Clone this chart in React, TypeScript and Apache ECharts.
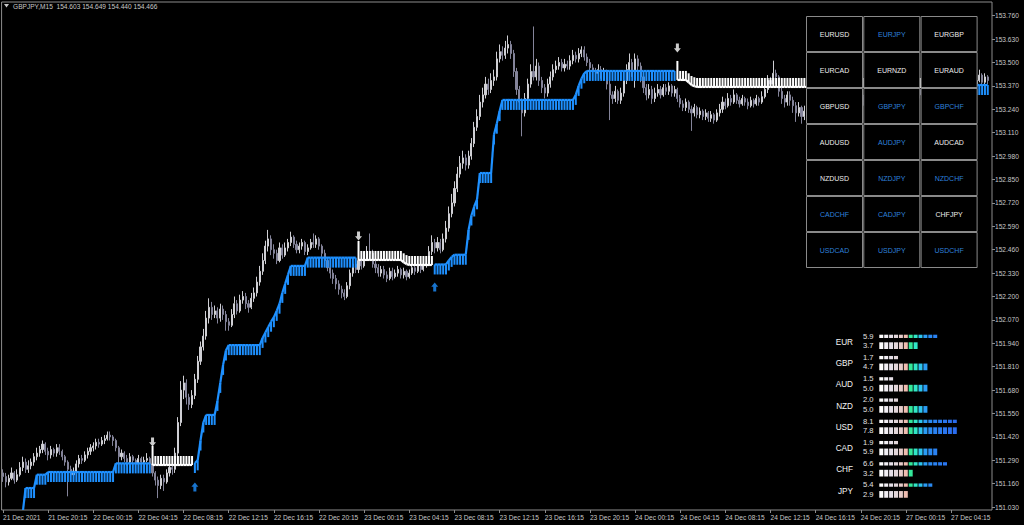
import React, { useEffect, useRef } from 'react';
import * as echarts from 'echarts';

const timeLabels = ['21 Dec 2021','21 Dec 20:15','22 Dec 00:15','22 Dec 04:15','22 Dec 08:15','22 Dec 12:15','22 Dec 16:15','22 Dec 20:15','23 Dec 00:15','23 Dec 04:15','23 Dec 08:15','23 Dec 12:15','23 Dec 16:15','23 Dec 20:15','24 Dec 00:15','24 Dec 04:15','24 Dec 08:15','24 Dec 12:15','24 Dec 16:15','24 Dec 20:15','27 Dec 00:15','27 Dec 04:15'];
const priceTicks = [153.760,153.630,153.500,153.370,153.240,153.110,152.980,152.850,152.720,152.590,152.460,152.330,152.200,152.070,151.940,151.810,151.680,151.550,151.420,151.290,151.160,151.030];

const firstOpen = 151.22;
const closes = [
151.20,151.17,151.19,151.22,151.18,151.21,151.25,151.28,151.24,151.26,
151.28,151.31,151.33,151.35,151.38,151.34,151.32,151.35,151.33,151.36,
151.34,151.31,151.28,151.24,151.21,151.23,151.27,151.30,151.29,151.32,
151.34,151.36,151.37,151.39,151.38,151.40,151.41,151.43,151.42,151.40,
151.36,151.31,151.33,151.30,151.28,151.31,151.29,151.27,151.30,151.28,
151.29,151.30,151.27,151.22,151.18,151.15,151.19,151.17,151.22,151.25,
151.24,151.33,151.50,151.68,151.72,151.64,151.60,151.65,151.74,151.84,
151.92,151.98,152.08,152.14,152.10,152.12,152.08,152.13,152.10,152.06,
152.04,152.10,152.16,152.12,152.18,152.20,152.16,152.14,152.19,152.22,
152.28,152.34,152.40,152.48,152.52,152.46,152.44,152.40,152.47,152.43,
152.47,152.50,152.53,152.49,152.46,152.48,152.50,152.45,152.47,152.50,
152.49,152.52,152.48,152.44,152.40,152.36,152.33,152.30,152.27,152.24,
152.22,152.20,152.26,152.33,152.38,152.35,152.40,152.37,152.42,152.45,
152.44,152.38,152.36,152.33,152.35,152.32,152.30,152.34,152.31,152.33,
152.35,152.32,152.34,152.31,152.33,152.36,152.34,152.37,152.35,152.38,
152.38,152.45,152.50,152.47,152.50,152.46,152.52,152.58,152.66,152.72,
152.80,152.88,152.94,152.97,152.93,152.98,153.05,153.14,153.20,153.28,
153.32,153.38,153.35,153.40,153.42,153.52,153.56,153.54,153.58,153.60,
153.55,153.45,153.35,153.28,153.22,153.30,153.38,153.45,153.42,153.48,
153.40,153.36,153.33,153.38,153.42,153.46,153.48,153.50,153.47,153.49,
153.48,153.51,153.54,153.52,153.55,153.57,153.53,153.50,153.47,153.45,
153.44,153.46,153.43,153.45,153.38,153.32,153.30,153.34,153.29,153.33,
153.40,153.46,153.50,153.45,153.52,153.48,153.42,153.36,153.32,153.35,
153.30,153.33,153.35,153.32,153.36,153.34,153.37,153.33,153.35,153.30,
153.27,153.25,153.28,153.24,153.22,153.25,153.21,153.23,153.20,153.22,
153.19,153.21,153.18,153.22,153.24,153.28,153.26,153.30,153.28,153.32,
153.29,153.27,153.30,153.28,153.26,153.29,153.27,153.30,153.28,153.31,
153.35,153.40,153.38,153.44,153.42,153.34,153.30,153.28,153.32,153.29,
153.26,153.22,153.25,153.20,153.23,153.26,153.24,153.28,153.25,153.29,
153.31,153.28,153.33,153.30,153.27,153.31,153.34,153.32,153.29,153.33,
153.36,153.33,153.30,153.34,153.31,153.28,153.32,153.35,153.33,153.30,
153.27,153.31,153.29,153.33,153.36,153.34,153.38,153.35,153.32,153.35,
153.33,153.30,153.34,153.37,153.35,153.32,153.36,153.39,153.37,153.34,
153.36,153.38,153.35,153.39,153.41,153.38,153.40,153.43,153.41,153.38,
153.40,153.42,153.39,153.41,153.38,153.40,153.43,153.39,153.42,153.40
];
const highs = [
151.24,151.22,151.21,151.25,151.23,151.24,151.28,151.31,151.30,151.29,
151.30,151.33,151.36,151.37,151.40,151.39,151.36,151.37,151.36,151.38,
151.38,151.35,151.32,151.29,151.26,151.25,151.29,151.32,151.32,151.34,
151.36,151.38,151.39,151.41,151.41,151.42,151.43,151.45,151.45,151.43,
151.41,151.37,151.35,151.34,151.32,151.33,151.32,151.30,151.32,151.31,
151.31,151.33,151.31,151.28,151.23,151.20,151.21,151.21,151.24,151.27,
151.27,151.36,151.53,151.73,151.76,151.74,151.66,151.68,151.77,151.87,
151.95,152.02,152.12,152.19,152.17,152.15,152.14,152.16,152.15,152.12,
152.08,152.13,152.20,152.18,152.21,152.23,152.22,152.18,152.22,152.25,
152.31,152.37,152.44,152.51,152.57,152.54,152.49,152.46,152.50,152.49,
152.50,152.52,152.56,152.54,152.51,152.50,152.52,152.51,152.49,152.52,
152.55,152.54,152.53,152.49,152.46,152.42,152.38,152.35,152.32,152.29,
152.26,152.24,152.28,152.35,152.41,152.40,152.42,152.42,152.45,152.48,
152.55,152.46,152.40,152.38,152.37,152.37,152.34,152.36,152.36,152.35,
152.37,152.36,152.36,152.35,152.35,152.38,152.37,152.39,152.39,152.40,
152.41,152.48,152.54,152.52,152.53,152.52,152.55,152.62,152.70,152.77,
152.84,152.92,152.98,153.01,152.99,153.01,153.08,153.17,153.24,153.32,
153.36,153.42,153.41,153.44,153.46,153.56,153.60,153.59,153.62,153.65,
153.62,153.57,153.47,153.37,153.30,153.33,153.41,153.49,153.70,153.52,
153.50,153.42,153.38,153.41,153.45,153.49,153.51,153.53,153.52,153.52,
153.51,153.54,153.57,153.56,153.58,153.59,153.59,153.55,153.52,153.49,
153.47,153.49,153.48,153.47,153.46,153.40,153.34,153.37,153.35,153.36,
153.43,153.49,153.55,153.52,153.55,153.54,153.50,153.44,153.38,153.38,
153.37,153.36,153.38,153.37,153.38,153.38,153.39,153.38,153.37,153.36,
153.32,153.29,153.30,153.29,153.26,153.27,153.26,153.25,153.24,153.24,
153.23,153.23,153.22,153.24,153.27,153.31,153.30,153.33,153.32,153.35,
153.33,153.31,153.32,153.31,153.30,153.31,153.30,153.32,153.31,153.34,
153.38,153.43,153.42,153.51,153.46,153.43,153.36,153.32,153.34,153.34,
153.31,153.28,153.28,153.26,153.26,153.28,153.28,153.30,153.30,153.31,
153.34,153.33,153.35,153.35,153.31,153.33,153.37,153.36,153.33,153.35,
153.39,153.37,153.34,153.36,153.35,153.32,153.34,153.38,153.37,153.34,
153.31,153.33,153.33,153.35,153.38,153.38,153.40,153.39,153.36,153.37,
153.37,153.34,153.36,153.39,153.39,153.36,153.38,153.41,153.41,153.38,
153.38,153.40,153.39,153.41,153.43,153.42,153.42,153.45,153.45,153.42,
153.42,153.44,153.43,153.43,153.42,153.42,153.46,153.44,153.44,153.43
];
const lows = [
151.17,151.14,151.15,151.18,151.16,151.17,151.20,151.23,151.22,151.22,
151.24,151.26,151.29,151.31,151.33,151.32,151.29,151.30,151.31,151.31,
151.32,151.29,151.26,151.09,151.18,151.19,151.22,151.25,151.27,151.28,
151.30,151.32,151.34,151.35,151.36,151.37,151.38,151.40,151.40,151.37,
151.34,151.26,151.29,151.28,151.26,151.27,151.27,151.25,151.26,151.26,
151.27,151.28,151.25,151.20,151.15,151.08,151.13,151.12,151.16,151.20,
151.21,151.22,151.31,151.48,151.63,151.60,151.57,151.58,151.63,151.72,
151.82,151.90,151.96,152.05,152.07,152.08,152.05,152.06,152.07,152.01,
152.01,152.03,152.08,152.10,152.11,152.16,152.13,152.11,152.13,152.17,
152.20,152.26,152.32,152.38,152.45,152.43,152.41,152.38,152.39,152.41,
152.42,152.45,152.48,152.47,152.44,152.44,152.46,152.43,152.43,152.46,
152.47,152.47,152.46,152.42,152.38,152.34,152.30,152.27,152.24,152.21,
152.19,152.18,152.19,152.24,152.31,152.33,152.33,152.35,152.36,152.40,
152.41,152.36,152.33,152.31,152.31,152.30,152.28,152.29,152.29,152.30,
152.31,152.30,152.30,152.29,152.30,152.32,152.32,152.33,152.33,152.34,
152.36,152.37,152.43,152.44,152.45,152.44,152.45,152.50,152.56,152.64,
152.70,152.78,152.86,152.91,152.90,152.91,152.96,153.03,153.12,153.18,
153.25,153.30,153.32,153.33,153.37,153.40,153.50,153.51,153.52,153.55,
153.52,153.42,153.32,153.25,153.09,153.20,153.28,153.36,153.40,153.40,
153.37,153.33,153.30,153.31,153.36,153.40,153.44,153.46,153.45,153.45,
153.46,153.46,153.49,153.50,153.50,153.53,153.51,153.48,153.45,153.42,
153.41,153.42,153.41,153.40,153.35,153.18,153.27,153.28,153.27,153.27,
153.31,153.38,153.44,153.42,153.36,153.45,153.39,153.33,153.29,153.30,
153.27,153.28,153.31,153.30,153.31,153.32,153.32,153.31,153.31,153.28,
153.25,153.23,153.23,153.22,153.12,153.20,153.19,153.19,153.18,153.18,
153.17,153.17,153.16,153.17,153.20,153.22,153.24,153.25,153.26,153.27,
153.27,153.25,153.26,153.26,153.24,153.25,153.25,153.26,153.26,153.27,
153.30,153.33,153.36,153.36,153.38,153.31,153.27,153.25,153.26,153.26,
153.22,153.17,153.20,153.16,153.18,153.21,153.22,153.22,153.23,153.24,
153.27,153.26,153.27,153.28,153.25,153.26,153.30,153.30,153.27,153.28,
153.31,153.31,153.28,153.29,153.29,153.26,153.27,153.31,153.31,153.28,
153.25,153.26,153.27,153.28,153.32,153.32,153.33,153.33,153.30,153.31,
153.31,153.28,153.29,153.33,153.33,153.30,153.31,153.35,153.35,153.32,
153.33,153.35,153.33,153.34,153.37,153.36,153.37,153.39,153.39,153.36,
153.37,153.39,153.37,153.38,153.36,153.37,153.39,153.37,153.38,153.38
];

// trailing-stop indicator: [fromBar, toBar, stopLevel, trend(1 up / -1 down)]
const stopRuns = [
[7,7,151.00,1],[8,11,151.136,1],[12,15,151.21,1],[16,39,151.225,1],[40,52,151.273,1],
[53,67,151.264,-1],
[68,68,151.275,1],[69,69,151.29,1],[70,70,151.40,1],[71,71,151.50,1],[72,75,151.542,1],[76,76,151.62,1],[77,77,151.72,1],[78,78,151.82,1],[79,79,151.90,1],[80,91,151.93,1],[92,92,151.97,1],[93,93,152.00,1],[94,94,152.03,1],[95,95,152.06,1],[96,96,152.085,1],[97,97,152.12,1],[98,98,152.16,1],[99,99,152.22,1],[100,100,152.27,1],[101,101,152.32,1],[102,107,152.37,1],[108,125,152.416,1],
[126,141,152.403,-1],[142,142,152.39,-1],[143,143,152.38,-1],[144,152,152.375,-1],
[153,157,152.378,1],[158,158,152.40,1],[159,159,152.42,1],[160,164,152.432,1],[165,165,152.57,1],[166,166,152.65,1],[167,167,152.70,1],[168,168,152.74,1],[169,173,152.886,1],[174,174,153.10,1],[175,175,153.16,1],[176,176,153.23,1],[177,202,153.292,1],[203,203,153.32,1],[204,204,153.37,1],[205,205,153.41,1],[206,206,153.44,1],[207,238,153.453,1],
[239,242,153.403,-1],[243,243,153.39,-1],[244,244,153.375,-1],[245,245,153.368,-1],[246,336,153.364,-1],
[337,349,153.375,1]
];
const downArrows = [[53,151.392],[126,152.536],[239,153.58]];
const upArrows = [[68,151.142],[153,152.253],[337,153.20]];

const pairs = ['EURUSD','EURJPY','EURGBP','EURCAD','EURNZD','EURAUD','GBPUSD','GBPJPY','GBPCHF','AUDUSD','AUDJPY','AUDCAD','NZDUSD','NZDJPY','NZDCHF','CADCHF','CADJPY','CHFJPY','USDCAD','USDJPY','USDCHF'];
const pairSignals = [0,1,0,0,0,0,0,1,1,0,1,0,0,1,1,1,1,0,1,1,1];

const currencies = ['EUR','GBP','AUD','NZD','USD','CAD','CHF','JPY'];
const strengthA = [5.9,1.7,1.5,2.0,8.1,1.9,6.6,5.4];
const strengthB = [3.7,4.7,5.0,5.0,7.8,5.9,3.2,2.9];

const BLUE = '#1e90ff';
const WHITE = '#ffffff';
const FONT = '"Liberation Sans", Arial, sans-serif';
const segColors = ['#ffffff','#f2eff4','#e6e0e8','#e2d6da','#e6ccca','#eebcb0','#34e89a','#30e6c6','#2ec4ee','#2a9cf4','#2a8af2','#2a82f2','#2a7cf0','#2a76f0','#2a70ee','#2a6cee'];

export default function App() {
  const ref = useRef<HTMLDivElement>(null);
  useEffect(() => {
    if (!ref.current) return;
    const chart = echarts.init(ref.current, null, { renderer: 'svg' });
    const N = 351;
    const categories = Array.from({ length: N }, (_, i) => String(i));
    const candles = closes.map((c, i) => {
      const o = i === 0 ? firstOpen : closes[i - 1];
      return [o, c, Math.min(lows[i], o, c), Math.max(highs[i], o, c)];
    });
    const stops: (number | null)[] = new Array(closes.length).fill(null);
    const dirs: number[] = new Array(closes.length).fill(0);
    stopRuns.forEach(([a, b, v, d]) => {
      for (let i = a; i <= b; i++) { stops[i] = v; dirs[i] = d; }
    });
    const indData: number[][] = [];
    for (let i = 0; i < stops.length; i++) {
      if (stops[i] == null) continue;
      const ps = i > 0 && stops[i - 1] != null ? (stops[i - 1] as number) : -1;
      const pd = i > 0 ? dirs[i - 1] : 0;
      indData.push([i, stops[i] as number, dirs[i], ps, pd]);
    }

    const graphics: any[] = [];
    graphics.push({ type: 'polygon', z: 100, shape: { points: [[4, 4], [9, 4], [6.5, 7.5]] }, style: { fill: '#c8c8c8' } });
    graphics.push({ type: 'text', z: 100, x: 13, y: 6.5, style: { text: 'GBPJPY,M15  154.603 154.649 154.440 154.466', fill: '#c8c8c8', fontSize: 6.6, fontFamily: FONT, verticalAlign: 'middle', align: 'left' } });

    pairs.forEach((p, k) => {
      const c = k % 3, r = Math.floor(k / 3);
      const x = 806.5 + c * 57.3, y = 16.5 + r * 36;
      graphics.push({ type: 'rect', z: 100, shape: { x, y, width: 56, height: 35 }, style: { fill: '#000000', stroke: '#8a8a8a', lineWidth: 1 } });
      graphics.push({ type: 'text', z: 101, x: x + 28, y: y + 17.5, style: { text: p, fill: pairSignals[k] ? '#2f80dc' : '#ececec', fontSize: 7, fontFamily: FONT, align: 'center', verticalAlign: 'middle' } });
    });

    currencies.forEach((cur, r) => {
      const ly = 342.3 + r * 21.25;
      graphics.push({ type: 'text', z: 100, x: 853, y: ly, style: { text: cur, fill: '#f4f4f4', fontSize: 8.2, fontFamily: FONT, align: 'right', verticalAlign: 'middle' } });
      graphics.push({ type: 'text', z: 100, x: 863, y: ly - 6.3, style: { text: strengthA[r].toFixed(1), fill: '#e0e0e0', fontSize: 7.6, fontFamily: FONT, align: 'left', verticalAlign: 'middle' } });
      graphics.push({ type: 'text', z: 100, x: 863, y: ly + 3.4, style: { text: strengthB[r].toFixed(1), fill: '#e0e0e0', fontSize: 7.6, fontFamily: FONT, align: 'left', verticalAlign: 'middle' } });
      const na = Math.min(16, Math.ceil(strengthA[r] * 2 - 1e-9));
      const nb = Math.min(16, Math.ceil(strengthB[r] * 2 - 1e-9));
      for (let k = 0; k < na; k++) {
        graphics.push({ type: 'rect', z: 100, shape: { x: 879.3 + k * 4.9, y: ly - 7.6, width: 4, height: 3.3 }, style: { fill: segColors[k] } });
      }
      for (let k = 0; k < nb; k++) {
        graphics.push({ type: 'rect', z: 100, shape: { x: 879.3 + k * 4.9, y: ly, width: 4, height: 6.7 }, style: { fill: segColors[k] } });
      }
    });

    const option: any = {
      animation: false,
      backgroundColor: '#000000',
      grid: { left: 1, right: 32, top: 2, bottom: 15, show: true, borderColor: '#8c8c8c', borderWidth: 1, backgroundColor: 'transparent' },
      xAxis: {
        type: 'category', data: categories, boundaryGap: true,
        axisLine: { show: false },
        axisTick: { show: true, alignWithLabel: true, length: 3, interval: (i: number) => i % 16 === 0 && i / 16 < timeLabels.length, lineStyle: { color: '#8c8c8c' } },
        axisLabel: {
          interval: (i: number) => i % 16 === 0 && i / 16 < timeLabels.length,
          formatter: (_v: string, i: number) => timeLabels[i / 16] || '',
          color: '#c8c8c8', fontSize: 6.6, fontFamily: FONT, align: 'left', margin: 4,
        },
        splitLine: { show: false },
      },
      yAxis: {
        type: 'value', position: 'right', min: 151.014, max: 153.836, scale: true,
        axisLine: { show: false },
        axisTick: { show: true, length: 3, customValues: priceTicks, lineStyle: { color: '#8c8c8c' } },
        axisLabel: { customValues: priceTicks, formatter: (v: number) => v.toFixed(3), color: '#c8c8c8', fontSize: 6.6, fontFamily: FONT, margin: 3 },
        splitLine: { show: false },
      },
      series: [
        {
          type: 'candlestick', data: candles, barWidth: 1.6, z: 2,
          itemStyle: { color: '#cfcfd4', color0: '#84849a', borderColor: '#cfcfd4', borderColor0: '#84849a', borderWidth: 1 },
        },
        {
          type: 'custom', z: 3, clip: true, data: indData, encode: { x: 0, y: 1 },
          renderItem: (_p: any, api: any) => {
            const i = api.value(0), s = api.value(1), d = api.value(2), ps = api.value(3), pd = api.value(4);
            const pt = api.coord([i, s]);
            const color = d > 0 ? BLUE : WHITE;
            const h = d > 0 ? 10 : (pd > 0 ? -19 : -9);
            const children: any[] = [
              { type: 'rect', shape: { x: pt[0] - 1, y: Math.min(pt[1], pt[1] + h), width: 2, height: Math.abs(h) }, style: { fill: color } },
            ];
            if (pd === d && ps > 0) {
              const q = api.coord([i - 1, ps]);
              children.push({ type: 'line', shape: { x1: q[0], y1: q[1], x2: pt[0], y2: pt[1] }, style: { stroke: color, lineWidth: 2.2 } });
            }
            return { type: 'group', children };
          },
        },
        {
          type: 'scatter', z: 4, data: downArrows, symbol: 'path://M2,0 L5,0 L5,4.5 L7,4.5 L3.5,8.5 L0,4.5 L2,4.5 Z', symbolSize: [7, 9],
          itemStyle: { color: WHITE }, silent: true,
        },
        {
          type: 'scatter', z: 4, data: upArrows, symbol: 'path://M3.5,0 L7,4 L5,4 L5,8.5 L2,8.5 L2,4 L0,4 Z', symbolSize: [7, 9],
          itemStyle: { color: BLUE }, silent: true,
        },
      ],
      graphic: graphics,
    };
    chart.setOption(option);
    return () => chart.dispose();
  }, []);
  return <div ref={ref} style={{ position: 'fixed', left: 0, top: 0, width: 1024, height: 525, background: '#000' }} />;
}
